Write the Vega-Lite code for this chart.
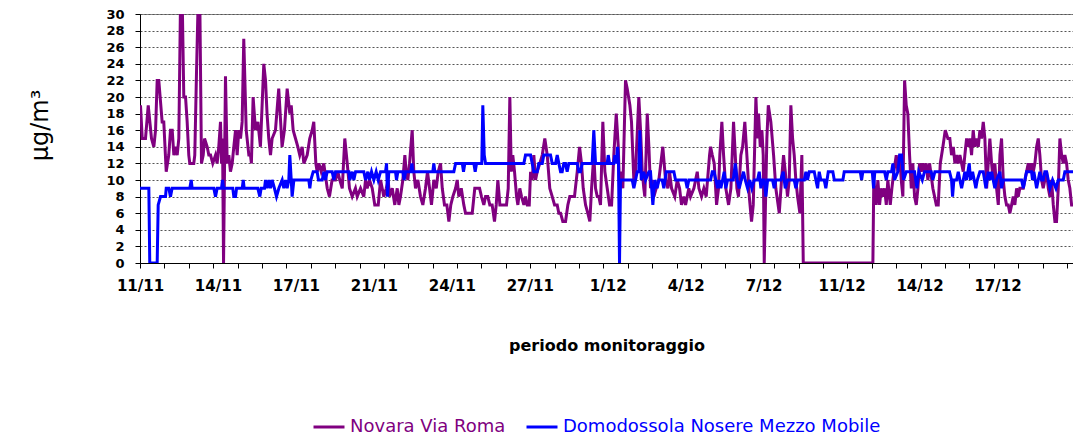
{
"$schema": "https://vega.github.io/schema/vega-lite/v6.json",
"width": 933, "height": 249,
"autosize": {"type": "none"},
"padding": {"left": 140, "top": 14, "right": 0, "bottom": 178},
"background": "white",
"config": {"view": {"stroke": "#888888", "strokeWidth": 1}, "font": "DejaVu Sans"},
"datasets": {
"novara": [
{"h":0.5,"v":19},{"h":2.2,"v":15},{"h":5.4,"v":15},{"h":8.1,"v":19},{"h":11.3,"v":15},{"h":13.6,"v":14},{"h":15.3,"v":16},{"h":16.9,"v":22},{"h":18.5,"v":22},{"h":21.8,"v":17},{"h":23.4,"v":17},{"h":25.8,"v":11},{"h":28.3,"v":13},{"h":30,"v":16},{"h":31.7,"v":16},{"h":33.3,"v":13},{"h":34.9,"v":14},{"h":36.6,"v":13},{"h":38.2,"v":15},{"h":39.9,"v":32},{"h":41.5,"v":32},{"h":43.1,"v":20},{"h":44.8,"v":20},{"h":46.4,"v":17},{"h":48,"v":13},{"h":49,"v":12},{"h":52.9,"v":12},{"h":53.9,"v":13},{"h":55.6,"v":23},{"h":57.3,"v":32},{"h":58.8,"v":32},{"h":60.5,"v":12},{"h":62.2,"v":13},{"h":63.5,"v":15},{"h":66.1,"v":14},{"h":67.7,"v":13},{"h":69.4,"v":13},{"h":71.6,"v":12},{"h":74.3,"v":13},{"h":75.9,"v":12},{"h":77.5,"v":14},{"h":79.2,"v":17},{"h":80.2,"v":12},{"h":81.2,"v":15},{"h":82.2,"v":0},{"h":84.1,"v":22.5},{"h":85.8,"v":12},{"h":87.4,"v":13},{"h":89,"v":11},{"h":90.7,"v":12},{"h":92.3,"v":14},{"h":94,"v":16},{"h":95.6,"v":13},{"h":97.2,"v":16},{"h":98.9,"v":15},{"h":100.5,"v":17},{"h":102.1,"v":27},{"h":104.5,"v":16},{"h":107.1,"v":13},{"h":108.7,"v":13},{"h":109.6,"v":12},{"h":111.3,"v":20},
{"h":113.6,"v":16},{"h":116,"v":17},{"h":118.5,"v":14},{"h":121.8,"v":24},{"h":123.5,"v":22},{"h":125,"v":18},{"h":126.7,"v":15},{"h":128.4,"v":13},{"h":130,"v":15},{"h":133.3,"v":16},{"h":136.5,"v":21},{"h":139.8,"v":14},{"h":142.1,"v":16},{"h":144.8,"v":21},{"h":147.4,"v":18},{"h":148.8,"v":19},{"h":150.7,"v":16},{"h":153,"v":15},{"h":155.3,"v":14},{"h":157.2,"v":13},{"h":159.6,"v":14},{"h":161.2,"v":12},{"h":164.5,"v":13},{"h":167,"v":15},{"h":169.4,"v":16},{"h":171,"v":17},{"h":173,"v":12},{"h":174.3,"v":11},{"h":176,"v":12},{"h":178.3,"v":11},{"h":180.8,"v":12},{"h":184.2,"v":9},{"h":186.4,"v":8},{"h":189,"v":10},{"h":192.4,"v":10},{"h":194.6,"v":11},{"h":196.6,"v":10},{"h":199,"v":9},{"h":201.5,"v":15},{"h":203.9,"v":12},{"h":206.1,"v":9},{"h":208.8,"v":8},{"h":212,"v":9},{"h":213.7,"v":8},{"h":217,"v":9},{"h":220.2,"v":8},
{"h":221.9,"v":10},{"h":223.5,"v":9},{"h":225.8,"v":10},{"h":228.5,"v":9},{"h":231,"v":7},{"h":234.4,"v":7},{"h":236.7,"v":10},{"h":238.3,"v":9},{"h":239.9,"v":8},{"h":242.3,"v":9},{"h":244.2,"v":10},{"h":245.5,"v":8},{"h":248.2,"v":9},{"h":250.7,"v":7},{"h":253.1,"v":9},{"h":254.7,"v":7},{"h":256.3,"v":8},{"h":258.6,"v":10},{"h":260.6,"v":13},{"h":261.9,"v":11},{"h":263.5,"v":10},{"h":265.2,"v":12},{"h":267.8,"v":16},{"h":269.4,"v":11},{"h":271.1,"v":9},{"h":273.4,"v":10},{"h":276,"v":8},{"h":278.3,"v":7},{"h":280.9,"v":9},{"h":282.9,"v":11},{"h":284.9,"v":9},{"h":286.8,"v":7},{"h":289.1,"v":10},{"h":291.5,"v":9},{"h":293.4,"v":11},{"h":295.7,"v":12},{"h":297.4,"v":9},{"h":299.6,"v":7},{"h":301.9,"v":7},{"h":303.9,"v":5},{"h":305.8,"v":7},{"h":307.8,"v":8},{"h":310.5,"v":9},{"h":312.1,"v":10},{"h":313.7,"v":8},{"h":316.1,"v":9},{"h":318.6,"v":7},{"h":320.3,"v":6},{"h":323.5,"v":6},{"h":326.9,"v":6},{"h":329.4,"v":9},{"h":331.8,"v":9},{"h":334.1,"v":9},{"h":336,"v":8},
{"h":338.3,"v":7},{"h":340,"v":8},{"h":342.2,"v":8},{"h":344.2,"v":7},{"h":346.5,"v":7},{"h":348.8,"v":5},{"h":350.5,"v":7},{"h":352.1,"v":10},{"h":354.1,"v":7},{"h":356.4,"v":7},{"h":358.7,"v":7},{"h":360.6,"v":7},{"h":362.3,"v":9},{"h":363.9,"v":20},{"h":365.3,"v":11},{"h":366.8,"v":13},{"h":368.5,"v":11},{"h":370.5,"v":8},{"h":371.8,"v":7},{"h":373.7,"v":9},{"h":375.4,"v":8},{"h":377.7,"v":7},{"h":379.3,"v":8},{"h":381,"v":7},{"h":383,"v":7},{"h":384.3,"v":11},{"h":385.9,"v":10},{"h":387.5,"v":13},{"h":389.2,"v":10},{"h":390.8,"v":11},{"h":393.4,"v":12},{"h":395.8,"v":13},{"h":398.3,"v":15},{"h":400.7,"v":13},{"h":403.2,"v":9},{"h":405.6,"v":8},{"h":407.9,"v":7},{"h":410.5,"v":7},{"h":412.1,"v":6},{"h":413.8,"v":6},{"h":416,"v":5},{"h":418.7,"v":5},{"h":421,"v":7},{"h":422.9,"v":8},{"h":425.3,"v":8},{"h":427.5,"v":8},{"h":430.2,"v":11},{"h":432.5,"v":14},{"h":434.4,"v":12},{"h":436.1,"v":9},{"h":438.4,"v":7},{"h":440.6,"v":6},{"h":442.6,"v":5},{"h":444.3,"v":9},{"h":446.5,"v":13},{"h":448.2,"v":9},{"h":449.9,"v":8},
{"h":451.5,"v":8},{"h":453.1,"v":7},{"h":455.4,"v":17},{"h":457.4,"v":11},{"h":459.7,"v":9},{"h":462,"v":7},{"h":464,"v":7},{"h":466.2,"v":13},{"h":468.6,"v":18},{"h":470.6,"v":14},{"h":471.8,"v":9},{"h":473.5,"v":11},{"h":475.1,"v":9},{"h":477.7,"v":22},{"h":479.4,"v":21},{"h":482,"v":19},{"h":483.6,"v":17},{"h":485.9,"v":10},{"h":487.6,"v":11},{"h":490.8,"v":20},{"h":492.5,"v":16},{"h":494.2,"v":11},{"h":495.7,"v":9},{"h":496.7,"v":8},{"h":499.1,"v":18},{"h":500.7,"v":14},{"h":502.3,"v":9},{"h":504,"v":10},{"h":505.6,"v":8},{"h":507.9,"v":9},{"h":510.5,"v":10},{"h":514.4,"v":14},{"h":517.1,"v":10},{"h":519.4,"v":9},{"h":521,"v":11},{"h":523,"v":9},{"h":526.2,"v":8},{"h":528.6,"v":10},{"h":530.9,"v":9},{"h":532.8,"v":7},{"h":535.1,"v":8},{"h":536.8,"v":7},{"h":540,"v":9},{"h":541.7,"v":8},{"h":545,"v":9},{"h":548.3,"v":11},{"h":549.9,"v":9},{"h":552.5,"v":8},{"h":554.8,"v":9},{"h":557.1,"v":8},{"h":560.4,"v":13},{"h":561.4,"v":14},{"h":563.1,"v":13},
{"h":565,"v":12},{"h":567.3,"v":7},{"h":569.2,"v":9},{"h":570.5,"v":13},{"h":572.5,"v":17},{"h":574.2,"v":13},{"h":576.4,"v":9},{"h":579.1,"v":7},{"h":581.4,"v":9},{"h":584,"v":17},{"h":585.7,"v":13},{"h":587.3,"v":9},{"h":588.9,"v":8},{"h":591.2,"v":13},{"h":592.9,"v":14},{"h":595.1,"v":17},{"h":597.1,"v":13},{"h":599.5,"v":8},{"h":601.7,"v":5},{"h":603.4,"v":7},{"h":606,"v":20},{"h":607.6,"v":15},{"h":608.6,"v":18},{"h":610.3,"v":14},{"h":611.9,"v":16},{"h":613.2,"v":13},{"h":614.2,"v":0},{"h":616.8,"v":15},{"h":618.2,"v":19},{"h":620.7,"v":17},{"h":623.4,"v":13},{"h":625.6,"v":9},{"h":629,"v":6},{"h":631.2,"v":10},{"h":633.2,"v":13},{"h":634.9,"v":11},{"h":637.1,"v":8},{"h":638.8,"v":10},{"h":640.4,"v":19},{"h":642.1,"v":15},{"h":643.7,"v":13},{"h":645.3,"v":10},{"h":647,"v":8},{"h":649.3,"v":6},{"h":651.2,"v":13},{"h":652.6,"v":0},{"h":721.1,"v":0},
{"h":722,"v":10},{"h":724.4,"v":7},{"h":726,"v":10},{"h":727.7,"v":7},{"h":729.3,"v":9},{"h":730.9,"v":8},{"h":732.6,"v":9},{"h":734.3,"v":7},{"h":735.8,"v":10},{"h":738.2,"v":7},{"h":739.8,"v":9},{"h":741.7,"v":11},{"h":744.1,"v":13},{"h":745.7,"v":11},{"h":747.4,"v":13},{"h":749,"v":10},{"h":750.6,"v":8},{"h":752.3,"v":22},{"h":753.9,"v":19},{"h":755.5,"v":18},{"h":757.2,"v":13},{"h":758.9,"v":9},{"h":760.4,"v":12},{"h":762.1,"v":8},{"h":763.8,"v":7},{"h":765.4,"v":9},{"h":767,"v":12},{"h":768.7,"v":11},{"h":770.3,"v":12},{"h":771.9,"v":11},{"h":773.6,"v":12},{"h":775.2,"v":10},{"h":776.9,"v":12},{"h":780.1,"v":9},{"h":783.5,"v":7},{"h":785.4,"v":7},{"h":787.4,"v":12},{"h":790,"v":14},{"h":792.3,"v":16},{"h":794.9,"v":15},
{"h":796.8,"v":15},{"h":798.5,"v":13},{"h":800.2,"v":14},{"h":801.8,"v":12},{"h":803.4,"v":13},{"h":805.1,"v":12},{"h":806.7,"v":13},{"h":808.4,"v":12},{"h":810,"v":11},{"h":811.6,"v":13},{"h":813.3,"v":15},{"h":814.9,"v":14},{"h":816.5,"v":15},{"h":818.2,"v":13},{"h":819.8,"v":16},{"h":821.4,"v":14},{"h":823.1,"v":15},{"h":824.8,"v":14},{"h":826.4,"v":16},{"h":828,"v":15},{"h":829.7,"v":17},{"h":831.3,"v":15},{"h":833,"v":9},{"h":834.6,"v":12},{"h":836.2,"v":15},{"h":837.9,"v":12},{"h":839.5,"v":10},{"h":841.1,"v":12},{"h":842.8,"v":9},{"h":844.5,"v":7},{"h":846.1,"v":13},{"h":847.7,"v":15},{"h":849.4,"v":10},{"h":851,"v":8},{"h":852.6,"v":7},{"h":854.3,"v":7},{"h":855.9,"v":6},{"h":857.6,"v":7},{"h":859.2,"v":8},{"h":860.8,"v":7},{"h":862.5,"v":9},{"h":864.1,"v":8},{"h":865.7,"v":9},{"h":869.1,"v":9},{"h":870.7,"v":10},{"h":872.3,"v":11},{"h":874,"v":12},{"h":875.6,"v":11},{"h":877.2,"v":12},{"h":878.9,"v":11},{"h":880.5,"v":12},{"h":882.2,"v":14},{"h":883.8,"v":15},{"h":885.4,"v":13},{"h":887.1,"v":10},{"h":888.7,"v":9},{"h":890.3,"v":10},{"h":892,"v":11},{"h":893.7,"v":9},{"h":895.3,"v":8},{"h":896.9,"v":10},{"h":898.6,"v":7},{"h":900.2,"v":5},{"h":901.8,"v":5},{"h":903.5,"v":9},{"h":905.1,"v":15},{"h":906.8,"v":13},{"h":908.4,"v":12},{"h":910,"v":13},{"h":911.7,"v":12},{"h":913.3,"v":10},{"h":914.9,"v":9},{"h":916.6,"v":7},{"h":918,"v":7}
],
"domodossola": [
{"h":0,"v":9},{"h":8.7,"v":9},{"h":9.6,"v":0},{"h":16.9,"v":0},{"h":17.9,"v":7},{"h":20.2,"v":8},{"h":25.1,"v":8},{"h":25.8,"v":9},{"h":28.3,"v":9},{"h":30,"v":8},{"h":31.6,"v":9},{"h":49,"v":9},{"h":50.4,"v":10},{"h":51.3,"v":9},{"h":72.6,"v":9},{"h":74.3,"v":8},{"h":75.9,"v":9},{"h":80.2,"v":9},{"h":81.2,"v":10},{"h":82.2,"v":9},{"h":91.3,"v":9},{"h":92.3,"v":8},{"h":94,"v":8},{"h":95,"v":9},{"h":100.6,"v":9},{"h":101.6,"v":10},{"h":102.5,"v":9},{"h":115.9,"v":9},{"h":117.9,"v":8},{"h":119.2,"v":9},{"h":122.5,"v":9},{"h":123.5,"v":10},{"h":125.1,"v":9},{"h":126.8,"v":10},{"h":128.4,"v":9},{"h":130,"v":10},{"h":132.3,"v":9},{"h":134.3,"v":8},{"h":136.6,"v":9},{"h":139.9,"v":10},{"h":141.5,"v":9},{"h":143.2,"v":10},{"h":144.8,"v":9},{"h":146.4,"v":10},{"h":147.4,"v":13},{"h":148.8,"v":10},{"h":149.7,"v":8},{"h":151.4,"v":10},{"h":166.1,"v":10},{"h":167.1,"v":9},{"h":168.1,"v":10},{"h":170.4,"v":11},{"h":174.3,"v":11},{"h":175.6,"v":10},{"h":179.3,"v":10},{"h":180.9,"v":11},{"h":182.5,"v":10},{"h":184.2,"v":11},{"h":189.1,"v":11},{"h":190.7,"v":10},{"h":192.4,"v":11},{"h":205.5,"v":11},{"h":206.4,"v":10},{"h":208.8,"v":11},{"h":210.4,"v":10},{"h":212.1,"v":11},{"h":220.2,"v":11},{"h":221.9,"v":10},{"h":224.2,"v":11},{"h":225.8,"v":10},{"h":227.8,"v":11},{"h":230.1,"v":10},{"h":232.4,"v":11},{"h":234.4,"v":10},{"h":236.7,"v":11},{"h":241.6,"v":11},{"h":242.6,"v":12},{"h":243.5,"v":8},{"h":244.8,"v":11},{"h":251.4,"v":11},{"h":252.4,"v":10},{"h":253.7,"v":11},{"h":258.6,"v":11},{"h":259.9,"v":10},{"h":261.3,"v":11},{"h":266.5,"v":11},{"h":267.5,"v":12},{"h":268.4,"v":11},{"h":288.1,"v":11},{"h":289.1,"v":12},{"h":290.1,"v":11},{"h":308.8,"v":11},{"h":310.5,"v":12},{"h":317.1,"v":12},{"h":318.3,"v":11},{"h":319.6,"v":12},{"h":328.5,"v":12},{"h":329.8,"v":11},{"h":331.1,"v":12},{"h":336.3,"v":12},{"h":337.3,"v":19},{"h":338.7,"v":13},{"h":340,"v":12},{"h":377.7,"v":12},{"h":379.3,"v":13},{"h":384.3,"v":13},{"h":385.9,"v":12},{"h":387.5,"v":11},{"h":390.8,"v":11},{"h":392.4,"v":12},{"h":395.8,"v":12},{"h":397.3,"v":13},{"h":403.9,"v":13},{"h":405.6,"v":12},{"h":408.9,"v":12},{"h":410.5,"v":13},{"h":412.1,"v":12},{"h":413.8,"v":11},{"h":415.4,"v":11},{"h":417,"v":12},{"h":418.7,"v":12},{"h":420.3,"v":11},{"h":421.9,"v":12},{"h":430.2,"v":12},{"h":431.8,"v":11},{"h":433.4,"v":11},{"h":435.1,"v":12},{"h":444.9,"v":12},{"h":446.5,"v":16},{"h":448.2,"v":12},{"h":459.7,"v":12},{"h":460.7,"v":13},{"h":462,"v":12},{"h":466.2,"v":12},{"h":467.2,"v":13},{"h":468.6,"v":12},{"h":469.9,"v":14},{"h":470.8,"v":12},{"h":471.8,"v":0},{"h":472.8,"v":10},{"h":484.3,"v":10},{"h":485.9,"v":9},{"h":487.6,"v":10},{"h":489.2,"v":11},{"h":490.8,"v":11},{"h":491.8,"v":16},{"h":493.2,"v":10},{"h":495.7,"v":11},{"h":497.4,"v":10},{"h":500.7,"v":11},{"h":502.3,"v":11},{"h":504.6,"v":7},{"h":506.6,"v":10},{"h":508.9,"v":9},{"h":510.5,"v":10},{"h":513.8,"v":10},{"h":515.4,"v":9},{"h":517.8,"v":11},{"h":525.3,"v":11},{"h":526.9,"v":10},{"h":536.8,"v":10},{"h":538.4,"v":9},{"h":540,"v":10},{"h":561.4,"v":10},{"h":563.1,"v":11},{"h":564.8,"v":11},{"h":566.6,"v":10},{"h":568.3,"v":9},{"h":569.9,"v":10},{"h":571.5,"v":9},{"h":573.2,"v":10},{"h":574.8,"v":11},{"h":576.4,"v":9},{"h":578.1,"v":10},{"h":583.7,"v":10},{"h":585.7,"v":12},{"h":587.6,"v":10},{"h":589.6,"v":9},{"h":591.6,"v":10},{"h":593.8,"v":11},{"h":595.5,"v":10},{"h":597.8,"v":9},{"h":600,"v":10},{"h":602,"v":9},{"h":604.4,"v":10},{"h":607.6,"v":10},{"h":609.3,"v":11},{"h":610.9,"v":9},{"h":612.5,"v":10},{"h":614.2,"v":10},{"h":615.8,"v":8},{"h":617.5,"v":10},{"h":622.4,"v":10},{"h":624,"v":9},{"h":625.6,"v":10},{"h":630.5,"v":10},{"h":632.9,"v":11},{"h":634.9,"v":9},{"h":637.1,"v":10},{"h":643.7,"v":10},{"h":645.3,"v":9},{"h":647,"v":10},{"h":653.6,"v":10},{"h":655.2,"v":11},{"h":656.8,"v":10},{"h":658.5,"v":11},{"h":663.4,"v":11},{"h":665,"v":10},{"h":666.7,"v":9},{"h":668.3,"v":11},{"h":669.9,"v":10},{"h":673.2,"v":10},{"h":674.8,"v":9},{"h":677.2,"v":11},{"h":681.7,"v":11},{"h":683.1,"v":10},{"h":691.6,"v":10},{"h":692.9,"v":11},{"h":708.7,"v":11},{"h":710,"v":10},{"h":711.2,"v":11},{"h":720.5,"v":11},{"h":721.8,"v":9},{"h":723,"v":11},{"h":732.6,"v":11},{"h":734.3,"v":10},{"h":735.8,"v":11},{"h":739.5,"v":11},{"h":740.8,"v":12},{"h":742.4,"v":10},{"h":745.7,"v":11},{"h":747.4,"v":13},{"h":749.3,"v":13},{"h":751.3,"v":10},{"h":753.9,"v":11},{"h":762.1,"v":11},{"h":764.4,"v":9},{"h":766.3,"v":11},{"h":769.7,"v":10},{"h":771.9,"v":11},{"h":778.5,"v":11},{"h":780.1,"v":10},{"h":782.1,"v":11},{"h":796.5,"v":11},{"h":798.5,"v":10},{"h":799.5,"v":8},{"h":800.8,"v":10},{"h":803.4,"v":10},{"h":805.1,"v":11},{"h":806.7,"v":10},{"h":808.4,"v":9},{"h":810,"v":10},{"h":811.6,"v":11},{"h":813.3,"v":10},{"h":815.9,"v":12},{"h":817.2,"v":10},{"h":819.2,"v":11},{"h":820.8,"v":10},{"h":822.4,"v":9},{"h":823.8,"v":10},{"h":826.4,"v":11},{"h":829.7,"v":11},{"h":832.3,"v":9},{"h":834.6,"v":11},{"h":836.2,"v":10},{"h":837.9,"v":11},{"h":841.1,"v":9},{"h":842.8,"v":10},{"h":846.1,"v":11},{"h":847.7,"v":9},{"h":849.4,"v":10},{"h":867.4,"v":10},{"h":869.1,"v":9},{"h":870.7,"v":10},{"h":872.3,"v":11},{"h":877.2,"v":11},{"h":878.2,"v":10},{"h":879.5,"v":11},{"h":882.2,"v":9},{"h":885.4,"v":11},{"h":887.1,"v":10},{"h":888.7,"v":10},{"h":890.3,"v":11},{"h":892,"v":11},{"h":895.3,"v":9},{"h":897.9,"v":10},{"h":901.2,"v":9},{"h":903.5,"v":10},{"h":908.4,"v":10},{"h":910,"v":11},{"h":918,"v":11}
]
},
"encoding": {
"x": {"field": "h", "type": "quantitative",
 "scale": {"domain": [0, 918], "nice": false, "zero": false},
 "axis": {
  "values": [0,24,48,72,96,120,144,168,192,216,240,264,288,312,336,360,384,408,432,456,480,504,528,552,576,600,624,648,672,696,720,744,768,792,816,840,864,888,912,76.7,153.4,230.1,306.8,383.5,460.2,536.9,613.6,690.3,767,843.7],
  "labelExpr": "(datum.value % 24 == 0 && datum.value > 0) ? '' : ['11/11','14/11','17/11','21/11','24/11','27/11','1/12','4/12','7/12','11/12','14/12','17/12'][round(datum.value / 76.7)]",
  "tickOpacity": {"condition": {"test": "datum.value % 24 == 0", "value": 1}, "value": 0},
  "labelOverlap": false, "labelFlush": false, "grid": false,
  "tickSize": 5, "tickColor": "#000000", "domainColor": "#000000", "domainWidth": 1,
  "labelFont": "DejaVu Sans", "labelFontWeight": "bold", "labelFontSize": 15, "labelColor": "#000000", "labelPadding": 10,
  "title": "periodo monitoraggio", "titleFont": "DejaVu Sans", "titleFontSize": 16, "titleFontWeight": "bold", "titleColor": "#000000",
  "titleY": 87, "titleBaseline": "alphabetic"
 }
},
"y": {"field": "v", "type": "quantitative",
 "scale": {"domain": [0, 30], "nice": false, "zero": true},
 "axis": {
  "values": [0,2,4,6,8,10,12,14,16,18,20,22,24,26,28,30],
  "grid": true, "gridColor": "#555555", "gridDash": [2, 2], "gridWidth": 1,
  "tickSize": 5, "tickColor": "#000000", "domainColor": "#000000",
  "labelFont": "DejaVu Sans", "labelFontWeight": "bold", "labelFontSize": 13, "labelColor": "#000000", "labelPadding": 11,
  "title": "μg/m³", "titleFont": "DejaVu Sans", "titleFontSize": 24, "titleFontWeight": "normal", "titleColor": "#000000",
  "titleAngle": -90, "titleX": -93, "titleY": 111, "titleAlign": "center", "titleBaseline": "alphabetic"
 }
}
},
"layer": [
{"data": {"name": "novara"},
 "mark": {"type": "line", "clip": true, "strokeWidth": 3},
 "encoding": {"color": {"datum": "Novara Via Roma", "type": "nominal",
  "scale": {"domain": ["Novara Via Roma", "Domodossola Nosere Mezzo Mobile"], "range": ["#800080", "#0000ff"]},
  "legend": {"orient": "none", "legendX": 172, "legendY": 396, "direction": "horizontal", "title": null,
   "symbolType": "stroke", "symbolSize": 961, "symbolStrokeWidth": 3,
   "labelFont": "DejaVu Sans", "labelFontSize": 18, "labelLimit": 0,
   "labelColor": {"expr": "datum.value == 'Novara Via Roma' ? '#800080' : '#0000ff'"},
   "labelOffset": 4, "columnPadding": 14}}}},
{"data": {"name": "domodossola"},
 "mark": {"type": "line", "clip": true, "strokeWidth": 3},
 "encoding": {"color": {"datum": "Domodossola Nosere Mezzo Mobile", "type": "nominal"}}}
]
}
